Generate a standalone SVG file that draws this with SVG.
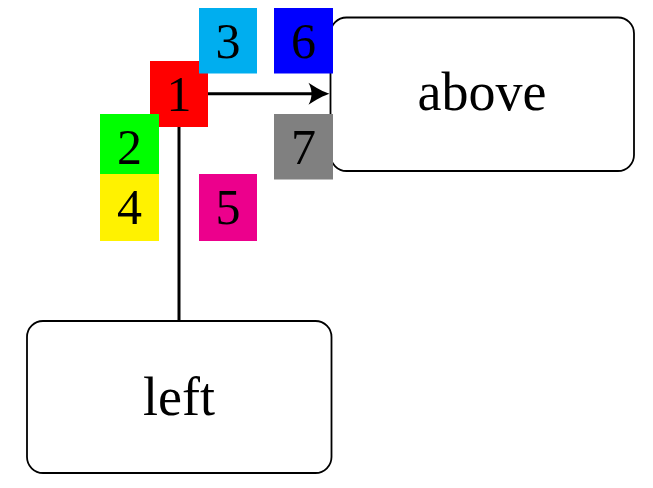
<svg xmlns="http://www.w3.org/2000/svg" width="653" height="488" viewBox="0 0 653 488">
  <style>
    .node { fill: #ffffff; stroke: #000000; stroke-width: 1.8; }
    .word { font-family: "Liberation Serif", "Times New Roman", serif; font-size: 54px; fill: #000000; text-anchor: middle; }
    .digit { font-family: "Liberation Serif", "Times New Roman", serif; font-size: 50px; fill: #000000; text-anchor: middle; }
    .conn { fill: none; stroke: #000000; stroke-width: 3; }
  </style>
  <defs>
    <marker id="arrow" markerUnits="userSpaceOnUse" viewBox="-23 -12 25 24" markerWidth="25" markerHeight="24" refX="-10" refY="0" orient="auto" overflow="visible">
      <path d="M0,0 C-5,1.5 -14,6 -21,11 C-17,4 -17,-4 -21,-11 C-14,-6 -5,-1.5 0,0 Z" fill="#000000"/>
    </marker>
  </defs>
  <rect width="653" height="488" fill="#ffffff"/>

  <g id="node-above">
    <rect class="node" x="330.5" y="17.5" width="303.5" height="153.5" rx="16" ry="16"/>
    <text class="word" x="482" y="110">above</text>
  </g>
  <g id="node-left">
    <rect class="node" x="27" y="321" width="304.5" height="152" rx="16" ry="16"/>
    <text class="word" x="179" y="415">left</text>
  </g>

  <g id="connectors">
    <line class="conn" x1="208" y1="93.7" x2="319.5" y2="93.7" marker-end="url(#arrow)"/>
    <line class="conn" x1="179" y1="127" x2="179" y2="321"/>
  </g>

  <g id="box-1">
    <rect x="150" y="61" width="58" height="66" fill="#FF0000"/>
    <text class="digit" x="179" y="111">1</text>
  </g>
  <g id="box-2">
    <rect x="100" y="114" width="59" height="66" fill="#00FF00"/>
    <text class="digit" x="129.5" y="164">2</text>
  </g>
  <g id="box-3">
    <rect x="199" y="8" width="58" height="65.5" fill="#00AEEF"/>
    <text class="digit" x="228" y="58">3</text>
  </g>
  <g id="box-4">
    <rect x="100" y="174" width="59" height="67" fill="#FFF200"/>
    <text class="digit" x="129.5" y="224">4</text>
  </g>
  <g id="box-5">
    <rect x="199" y="174" width="58" height="67" fill="#EC008C"/>
    <text class="digit" x="228" y="224">5</text>
  </g>
  <g id="box-6">
    <rect x="274" y="8" width="59" height="65.5" fill="#0000FF"/>
    <text class="digit" x="303.5" y="58">6</text>
  </g>
  <g id="box-7">
    <rect x="274" y="114" width="59" height="65.5" fill="#808080"/>
    <text class="digit" x="303.5" y="164">7</text>
  </g>
</svg>
